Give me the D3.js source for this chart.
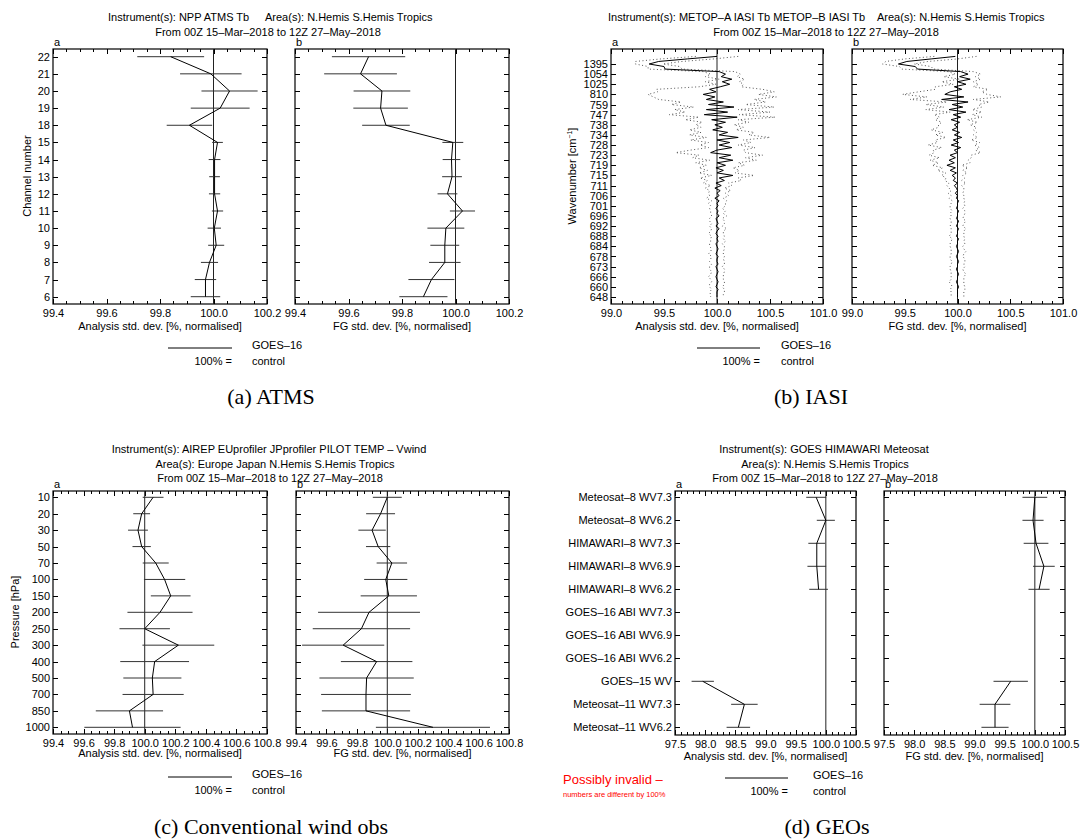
<!DOCTYPE html>
<html>
<head>
<meta charset="utf-8">
<script src="https://cdn.jsdelivr.net/npm/d3@7"></script>
<style>
  body { margin: 0; background: #fff; }
  svg text { font-family: "Liberation Sans", Arial, sans-serif; font-size: 11px; fill: #000; }
  svg text.cap { font-family: "Liberation Serif", "Times New Roman", serif; font-size: 22px; }
  svg text.warn { fill: #ff0000; }
</style>
</head>
<body>
<svg id="fig" width="1080" height="839"></svg>
<script>
// ---- ATMS (panel a) ----
const atmsChannels = ['22','21','20','19','18','15','14','13','12','11','10','9','8','7','6'];
const atmsAnMean = [99.84, 99.99, 100.06, 100.025, 99.91, 100.015, 100.004, 100.004, 100.004, 100.015, 100.003, 100.01, 99.985, 99.97, 99.97];
const atmsAnErr  = [0.125, 0.115, 0.105, 0.11, 0.085, 0.02, 0.022, 0.02, 0.021, 0.021, 0.025, 0.03, 0.032, 0.04, 0.055];
const atmsFgMean = [99.675, 99.645, 99.725, 99.72, 99.74, 99.99, 99.985, 99.987, 99.97, 100.026, 99.964, 99.96, 99.96, 99.91, 99.88];
const atmsFgErr  = [0.137, 0.136, 0.106, 0.102, 0.089, 0.039, 0.033, 0.037, 0.037, 0.047, 0.069, 0.054, 0.059, 0.086, 0.09];
const atmsTicks = [99.4, 99.6, 99.8, 100.0, 100.2];

// ---- IASI (panel b) : one row every 2 channels, labels every 8 channels ----
const iasiWavenumbers = ['1395','1054','1025','810','759','747','738','734','728','723','719','715','711','706','701','696','692','688','684','678','673','666','660','648'];
const iasiAnMean = [
  100.00, 99.72, 99.45, 99.36, 99.50, 99.51, 100.02, 100.08, 100.04, 100.14,
  100.05, 100.12, 100.03, 99.93, 99.99, 99.87, 99.98, 99.90, 100.06, 99.92,
  100.16, 99.90, 100.10, 99.88, 100.19, 99.95, 100.08, 99.98, 100.05, 99.96,
  100.10, 100.02, 100.20, 100.00, 100.12, 100.02, 100.14, 100.00, 99.94, 100.13,
  100.02, 100.15, 100.00, 100.08, 99.99, 100.06, 100.00, 100.15, 100.02, 100.07,
  99.99, 100.04, 99.98, 100.03, 100.00, 100.02, 99.98, 100.02, 100.00, 100.01,
  99.99, 100.01, 100.00, 100.02, 99.99, 100.00, 100.01, 99.99, 100.02, 100.00,
  99.99, 100.01, 100.00, 100.01, 99.99, 100.00, 100.01, 100.00, 99.99, 100.01,
  100.00, 100.00, 100.01, 99.99, 100.00, 100.01, 100.00, 99.99, 100.00, 100.01,
  100.00, 99.99, 100.01, 100.00, 100.00, 100.00
];
const iasiAnErr = [
  0.20, 0.25, 0.22, 0.13, 0.15, 0.16, 0.15, 0.14, 0.15, 0.12,
  0.16, 0.13, 0.20, 0.50, 0.55, 0.52, 0.58, 0.45, 0.40, 0.35,
  0.38, 0.30, 0.40, 0.33, 0.36, 0.25, 0.22, 0.18, 0.20, 0.22,
  0.25, 0.28, 0.30, 0.25, 0.20, 0.18, 0.22, 0.25, 0.33, 0.30,
  0.25, 0.22, 0.20, 0.18, 0.16, 0.15, 0.17, 0.20, 0.18, 0.16,
  0.12, 0.10, 0.09, 0.10, 0.08, 0.09, 0.08, 0.07, 0.08, 0.07,
  0.06, 0.07, 0.06, 0.07, 0.06, 0.07, 0.06, 0.06, 0.07, 0.06,
  0.07, 0.06, 0.06, 0.07, 0.06, 0.07, 0.06, 0.06, 0.07, 0.06,
  0.06, 0.07, 0.06, 0.06, 0.07, 0.06, 0.06, 0.07, 0.06, 0.06,
  0.07, 0.06, 0.06, 0.07, 0.06, 0.06
];
const iasiFgMean = [
  99.98, 99.75, 99.52, 99.44, 99.60, 99.62, 100.03, 100.10, 100.02, 100.12,
  100.00, 100.08, 99.97, 100.04, 99.93, 99.88, 100.06, 99.85, 100.10, 99.95,
  100.05, 99.92, 100.08, 99.96, 100.03, 99.94, 100.02, 99.97, 100.00, 99.95,
  100.02, 99.97, 100.04, 99.96, 100.01, 99.94, 100.03, 99.97, 100.00, 99.93,
  99.98, 99.92, 99.97, 99.90, 99.98, 99.93, 99.99, 99.95, 99.98, 99.96,
  100.00, 99.97, 99.99, 100.00, 99.98, 100.00, 99.99, 100.01, 100.00, 100.00,
  99.99, 100.01, 100.00, 100.00, 99.99, 100.01, 100.00, 99.99, 100.01, 100.00,
  100.00, 99.99, 100.01, 100.00, 100.00, 99.99, 100.00, 100.01, 100.00, 99.99,
  100.00, 100.01, 100.00, 100.00, 99.99, 100.00, 100.01, 100.00, 100.00, 99.99,
  100.00, 100.01, 100.00, 100.00, 100.00, 100.00
];
const iasiFgErr = [
  0.20, 0.25, 0.20, 0.15, 0.15, 0.15, 0.12, 0.12, 0.15, 0.10,
  0.15, 0.12, 0.18, 0.25, 0.30, 0.40, 0.35, 0.30, 0.20, 0.25,
  0.18, 0.22, 0.15, 0.18, 0.20, 0.15, 0.17, 0.15, 0.18, 0.20,
  0.16, 0.18, 0.15, 0.17, 0.20, 0.22, 0.18, 0.20, 0.22, 0.20,
  0.15, 0.18, 0.15, 0.14, 0.12, 0.12, 0.10, 0.10, 0.09, 0.08,
  0.08, 0.07, 0.07, 0.06, 0.07, 0.06, 0.07, 0.06, 0.06, 0.07,
  0.06, 0.06, 0.07, 0.06, 0.06, 0.07, 0.06, 0.06, 0.07, 0.06,
  0.06, 0.07, 0.06, 0.06, 0.07, 0.06, 0.06, 0.07, 0.06, 0.06,
  0.07, 0.06, 0.06, 0.07, 0.06, 0.06, 0.07, 0.06, 0.06, 0.07,
  0.06, 0.06, 0.07, 0.06, 0.06, 0.06
];
const iasiTicks = [99.0, 99.5, 100.0, 100.5, 101.0];

// ---- Conventional wind (panel c) ----
const windLevels = ['10','20','30','50','70','100','150','200','250','300','400','500','700','850','1000'];
const windAnMean = [100.055, 99.98, 99.956, 99.98, 100.072, 100.13, 100.17, 100.1, 100.0, 100.22, 100.065, 100.05, 100.055, 99.90, 99.92];
const windAnErr  = [0.068, 0.055, 0.065, 0.06, 0.085, 0.135, 0.13, 0.213, 0.165, 0.235, 0.225, 0.19, 0.2, 0.22, 0.315];
const windFgMean = [100.0, 99.956, 99.90, 99.94, 100.03, 99.99, 100.01, 99.88, 99.83, 99.71, 99.93, 99.864, 99.86, 99.86, 100.30];
const windFgErr  = [0.095, 0.095, 0.09, 0.08, 0.1, 0.142, 0.185, 0.335, 0.32, 0.27, 0.235, 0.31, 0.295, 0.29, 0.375];
const windTicks = [99.4, 99.6, 99.8, 100.0, 100.2, 100.4, 100.6, 100.8];

// ---- GEOs (panel d) ----
const geoLabels = ['Meteosat\u20138 WV7.3','Meteosat\u20138 WV6.2','HIMAWARI\u20138 WV7.3','HIMAWARI\u20138 WV6.9','HIMAWARI\u20138 WV6.2',
  'GOES\u201316 ABI WV7.3','GOES\u201316 ABI WV6.9','GOES\u201316 ABI WV6.2','GOES\u201315 WV','Meteosat\u201311 WV7.3','Meteosat\u201311 WV6.2'];
const geoAnMean = [99.84, 100.0, 99.85, 99.85, 99.88, null, null, null, 97.96, 98.65, 98.55];
const geoAnErr  = [0.165, 0.15, 0.14, 0.155, 0.155, null, null, null, 0.185, 0.22, 0.195];
const geoFgMean = [100.0, 99.97, 100.02, 100.15, 100.07, null, null, null, 99.60, 99.34, 99.34];
const geoFgErr  = [0.205, 0.175, 0.205, 0.18, 0.175, null, null, null, 0.285, 0.255, 0.225];
const geoTicks = [97.5, 98.0, 98.5, 99.0, 99.5, 100.0, 100.5];

const svg = d3.select('#fig');
const fmt1 = d3.format('.1f');

// one framed plot with ticks on all four sides
function drawPlot(o) {
  const g = svg.append('g');
  const x = d3.scaleLinear().domain([o.ticks[0], o.ticks[o.ticks.length - 1]]).range([o.l, o.r]);
  const y = o.y;
  const minor = d3.range(Math.round((x.domain()[1] - x.domain()[0]) / o.minorStep) + 1)
    .map(i => x.domain()[0] + i * o.minorStep);

  const axes = [
    [d3.axisBottom(x).tickValues(o.ticks).tickSize(-5).tickPadding(5).tickFormat(fmt1), o.bottom, 'x'],
    [d3.axisBottom(x).tickValues(minor).tickSize(-3).tickFormat(''), o.bottom, 'x'],
    [d3.axisTop(x).tickValues(o.ticks).tickSize(-5).tickFormat(''), o.top, 'x'],
    [d3.axisTop(x).tickValues(minor).tickSize(-3).tickFormat(''), o.top, 'x'],
    [d3.axisLeft(y).tickValues(o.yTicks).tickSize(-5).tickPadding(3).tickFormat(o.showY ? o.yFormat : ''), o.l, 'y'],
    [d3.axisRight(y).tickValues(o.yTicks).tickSize(-5).tickFormat(''), o.r, 'y']
  ];
  axes.forEach(([ax, off, dim]) => {
    const a = g.append('g')
      .attr('transform', dim === 'x' ? `translate(0,${off})` : `translate(${off},0)`)
      .call(ax);
    a.select('.domain').remove();
    a.selectAll('line').attr('stroke', '#000').attr('shape-rendering', 'crispEdges');
  });

  g.append('rect')
    .attr('x', o.l).attr('y', o.top)
    .attr('width', o.r - o.l).attr('height', o.bottom - o.top)
    .attr('fill', 'none').attr('stroke', '#000').attr('stroke-width', 1.2);

  // 100% reference
  g.append('line')
    .attr('x1', x(100)).attr('x2', x(100)).attr('y1', o.top).attr('y2', o.bottom)
    .attr('stroke', '#222').attr('stroke-width', 1);

  const rows = o.mean.map((m, i) => ({ m, e: o.err[i], p: o.pos[i] }));

  if (o.band) {
    ['up', 'dn'].forEach(side => {
      g.append('path')
        .datum(rows)
        .attr('fill', 'none').attr('stroke', '#555').attr('stroke-width', 1)
        .attr('stroke-dasharray', '1,2.5')
        .attr('d', d3.line()
          .x(d => x(side === 'up' ? d.m + d.e : d.m - d.e))
          .y(d => y(d.p)));
    });
  } else {
    g.selectAll('line.eb')
      .data(rows.filter(d => d.m != null))
      .join('line')
      .attr('class', 'eb')
      .attr('x1', d => x(d.m - d.e)).attr('x2', d => x(d.m + d.e))
      .attr('y1', d => y(d.p)).attr('y2', d => y(d.p))
      .attr('stroke', '#333').attr('stroke-width', 1);
  }

  g.append('path')
    .datum(rows)
    .attr('fill', 'none').attr('stroke', '#000').attr('stroke-width', 1)
    .attr('stroke-linejoin', 'round')
    .attr('d', d3.line().defined(d => d.m != null).x(d => x(d.m)).y(d => y(d.p)));

  g.append('text').attr('x', o.l + 1).attr('y', o.top - 3).text(o.letter);
  g.append('text').attr('x', (o.l + o.r) / 2).attr('y', o.bottom + o.titleDy)
    .attr('text-anchor', 'middle').text(o.xTitle);
}

function drawPanel(p) {
  const common = { top: p.top, bottom: p.bottom, y: p.y, yTicks: p.yTicks, yFormat: p.yFormat,
    ticks: p.ticks, minorStep: p.minorStep, pos: p.pos, band: p.band, titleDy: p.titleDy };
  drawPlot({ ...common, l: p.frames[0][0], r: p.frames[0][1], mean: p.an[0], err: p.an[1],
    showY: true, letter: 'a', xTitle: 'Analysis std. dev. [%, normalised]' });
  drawPlot({ ...common, l: p.frames[1][0], r: p.frames[1][1], mean: p.fg[0], err: p.fg[1],
    showY: false, letter: 'b', xTitle: 'FG std. dev. [%, normalised]' });

  p.titles.forEach(t => {
    svg.append('text').attr('x', t[0]).attr('y', t[1])
      .attr('text-anchor', t[3] || 'middle').text(t[2]);
  });

  if (p.yTitle) {
    const t = svg.append('text')
      .attr('transform', `translate(${p.yTitle[0]},${p.yTitle[1]}) rotate(-90)`)
      .attr('text-anchor', 'middle');
    t.append('tspan').text(p.yTitle[2]);
    if (p.yTitle[3]) {
      t.append('tspan').style('font-size', '7px').attr('dy', -4).text(p.yTitle[3]);
      t.append('tspan').attr('dy', 4).text(p.yTitle[4]);
    }
  }

  // legend
  const L = p.legend;
  svg.append('line').attr('x1', L.x1).attr('x2', L.x2).attr('y1', L.y).attr('y2', L.y)
    .attr('stroke', '#000').attr('stroke-width', 1);
  svg.append('text').attr('x', L.tx).attr('y', L.y + 1).text('GOES\u201316');
  svg.append('text').attr('x', L.x2).attr('y', L.y + 17).attr('text-anchor', 'end').text('100% =');
  svg.append('text').attr('x', L.tx).attr('y', L.y + 17).text('control');

  svg.append('text').attr('class', 'cap').attr('x', p.caption[0]).attr('y', p.caption[1])
    .attr('text-anchor', 'middle').text(p.caption[2]);
}

// (a) ATMS
drawPanel({
  frames: [[53, 267], [295, 509]], top: 49, bottom: 304,
  y: d3.scalePoint().domain(atmsChannels).range([56.7, 296.7]),
  yTicks: atmsChannels, yFormat: d => d,
  ticks: atmsTicks, minorStep: 0.05, titleDy: 26,
  pos: atmsChannels, an: [atmsAnMean, atmsAnErr], fg: [atmsFgMean, atmsFgErr],
  titles: [[108, 21, 'Instrument(s): NPP ATMS Tb', 'start'], [265, 21, 'Area(s): N.Hemis S.Hemis Tropics', 'start'],
           [268, 36, 'From 00Z 15\u2013Mar\u20132018 to 12Z 27\u2013May\u20132018']],
  yTitle: [31, 176, 'Channel number'],
  legend: { x1: 168, x2: 232, y: 348, tx: 252 },
  caption: [271, 404, '(a) ATMS']
});

// (b) IASI : rows at channels 0,2,4,..; labels at channels 6,14,...,190
const iasiY = d3.scaleLinear().domain([6, 190]).range([64, 297]);
const iasiLabelPos = iasiWavenumbers.map((_, k) => 6 + 8 * k);
const iasiRowPos = iasiAnMean.map((_, r) => 2 * r);
drawPanel({
  frames: [[611, 823], [852, 1063]], top: 49, bottom: 304,
  y: iasiY, yTicks: iasiLabelPos, yFormat: (d, i) => iasiWavenumbers[i],
  ticks: iasiTicks, minorStep: 0.1, titleDy: 26, band: true,
  pos: iasiRowPos, an: [iasiAnMean, iasiAnErr], fg: [iasiFgMean, iasiFgErr],
  titles: [[608, 21, 'Instrument(s): METOP\u2013A IASI Tb METOP\u2013B IASI Tb', 'start'],
           [877, 21, 'Area(s): N.Hemis S.Hemis Tropics', 'start'],
           [826, 36, 'From 00Z 15\u2013Mar\u20132018 to 12Z 27\u2013May\u20132018']],
  yTitle: [576, 176, 'Wavenumber [cm', '\u22121', ']'],
  legend: { x1: 697, x2: 760, y: 348, tx: 781 },
  caption: [811, 404, '(b) IASI']
});

// (c) wind
drawPanel({
  frames: [[53, 267], [296, 509]], top: 491, bottom: 734,
  y: d3.scalePoint().domain(windLevels).range([497.3, 727.3]),
  yTicks: windLevels, yFormat: d => d,
  ticks: windTicks, minorStep: 0.05, titleDy: 23,
  pos: windLevels, an: [windAnMean, windAnErr], fg: [windFgMean, windFgErr],
  titles: [[269, 453, 'Instrument(s): AIREP EUprofiler JPprofiler PILOT TEMP \u2013 Vwind'],
           [275, 468, 'Area(s): Europe Japan N.Hemis S.Hemis Tropics'],
           [270, 482, 'From 00Z 15\u2013Mar\u20132018 to 12Z 27\u2013May\u20132018']],
  yTitle: [19, 612, 'Pressure [hPa]'],
  legend: { x1: 168, x2: 232, y: 777, tx: 252 },
  caption: [271, 834, '(c) Conventional wind obs']
});

// (d) GEOs
drawPanel({
  frames: [[675, 856], [884, 1065]], top: 491, bottom: 735,
  y: d3.scalePoint().domain(geoLabels).range([497.3, 727.3]),
  yTicks: geoLabels, yFormat: d => d,
  ticks: geoTicks, minorStep: 0.1, titleDy: 25,
  pos: geoLabels, an: [geoAnMean, geoAnErr], fg: [geoFgMean, geoFgErr],
  titles: [[824, 453, 'Instrument(s): GOES HIMAWARI Meteosat'],
           [825, 468, 'Area(s): N.Hemis S.Hemis Tropics'],
           [825, 482, 'From 00Z 15\u2013Mar\u20132018 to 12Z 27\u2013May\u20132018']],
  legend: { x1: 725, x2: 788, y: 778, tx: 813 },
  caption: [827, 834, '(d) GEOs']
});

svg.append('text').attr('class', 'warn').attr('x', 563).attr('y', 784)
  .style('font-size', '13px').text('Possibly invalid \u2013');
svg.append('text').attr('class', 'warn').attr('x', 563).attr('y', 797)
  .style('font-size', '7.5px').text('numbers are different by 100%');
</script>
</body>
</html>
